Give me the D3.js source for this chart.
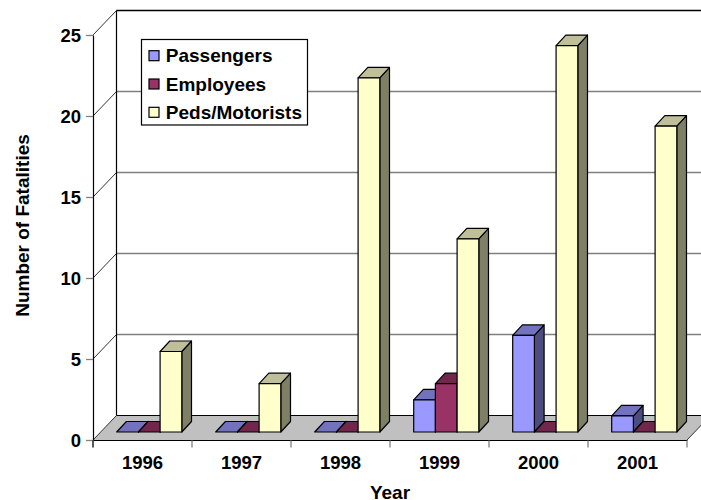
<!DOCTYPE html>
<html><head><meta charset="utf-8">
<script src="https://cdn.jsdelivr.net/npm/d3@7"></script>
<style>html,body{margin:0;padding:0;background:#fff;overflow:hidden}svg{display:block}text{font-family:"Liberation Sans",Arial,sans-serif;font-weight:bold;fill:#000}</style>
</head><body><div id="c"></div>
<script>
const years=["1996","1997","1998","1999","2000","2001"];
const seriesNames=["Passengers","Employees","Peds/Motorists"];
const passengers=[0,0,0,2,6,1];
const employees=[0,0,0,3,0,0];
const peds=[5,3,22,12,24,19];
const yTicks=[0,5,10,15,20,25];
const seriesValues=[passengers,employees,peds];
const front=["#9999FF","#993366","#FFFFCC"];
const top_=["#7272BF","#72264C","#BFBF99"];
const side=["#4C4C7F","#4C1933","#7F7F66"];

const W=701,H=500;
const svg=d3.select("#c").append("svg").attr("width",W).attr("height",H);
const x=d3.scaleBand().domain(years).range([93,687]);
const y=d3.scaleLinear().domain([0,25]).range([440,35]);
const yBar=d3.scaleLinear().domain([0,25]).range([432,29.5]);
const wallDx=23.5,wallDy=24.5;
const barDx=9.7,barDy=10.5;
const groupPad=23.7,barW=21.7;
const sx=d3.scaleBand().domain(seriesNames).range([groupPad,groupPad+barW*3]);
const poly=p=>p.map(d=>d.join(",")).join(" ");

// walls and floor
svg.append("polygon").attr("points",poly([[93,y(0)],[93+wallDx,y(0)-wallDy],[687+wallDx,y(0)-wallDy],[687,y(0)]])).attr("fill","#C0C0C0").attr("stroke","none");
const g=svg.append("g").attr("fill","none");
g.selectAll("line.grid").data(yTicks.filter(d=>d>0&&d<25)).join("line").attr("x1",93+wallDx).attr("x2",W).attr("y1",d=>y(d)-wallDy).attr("y2",d=>y(d)-wallDy).attr("stroke","#808080").attr("stroke-width",1.3);
g.selectAll("line.slant").data(yTicks).join("line").attr("x1",93).attr("x2",93+wallDx).attr("y1",d=>y(d)).attr("y2",d=>y(d)-wallDy).attr("stroke","#333").attr("stroke-width",1);
g.append("line").attr("x1",93+wallDx).attr("x2",W).attr("y1",y(25)-wallDy).attr("y2",y(25)-wallDy).attr("stroke","#000").attr("stroke-width",1.3);
g.append("line").attr("x1",93+wallDx).attr("x2",93+wallDx).attr("y1",y(25)-wallDy).attr("y2",y(0)-wallDy).attr("stroke","#000").attr("stroke-width",1.2);
g.append("line").attr("x1",93+wallDx).attr("x2",W).attr("y1",y(0)-wallDy).attr("y2",y(0)-wallDy).attr("stroke","#000").attr("stroke-width",1.2);
g.append("line").attr("x1",687).attr("x2",687+wallDx).attr("y1",y(0)).attr("y2",y(0)-wallDy).attr("stroke","#333").attr("stroke-width",1);

// axes
const ax=svg.append("g").attr("transform",`translate(93,0)`).call(d3.axisLeft(y).tickValues(yTicks).tickSize(7).tickPadding(5).tickSizeOuter(0));
ax.selectAll("text").style("font-size","18.5px").attr("dy","0.36em");
ax.selectAll(".tick line").attr("stroke","#808080").attr("stroke-width",1.3);
ax.select(".domain").attr("stroke","#000").attr("stroke-width",1.2);
const axb=svg.append("g").attr("transform",`translate(0,${y(0)})`).call(d3.axisBottom(x).tickSize(0).tickPadding(16).tickSizeOuter(0));
axb.selectAll("text").style("font-size","18.5px");
axb.select(".domain").attr("stroke","#000").attr("stroke-width",1.2);
svg.append("g").selectAll("line").data(years.concat(["end"])).join("line")
 .attr("x1",(d,i)=>93+i*x.step()).attr("x2",(d,i)=>93+i*x.step()).attr("y1",y(0)+0.5).attr("y2",y(0)+7.5)
 .attr("stroke",(d,i)=>i==0?"#000":"#808080").attr("stroke-width",1.3);

// bars
years.forEach((yr,i)=>{
  seriesNames.forEach((s,j)=>{
    const v=seriesValues[j][i];
    const x0=x(yr)+sx(s),x1=x0+barW;
    const y0=yBar(0),yt=yBar(v);
    const b=svg.append("g").attr("stroke","#000").attr("stroke-width",1.2).attr("stroke-linejoin","round");
    b.append("polygon").attr("points",poly([[x1,y0],[x1+barDx,y0-barDy],[x1+barDx,yt-barDy],[x1,yt]])).attr("fill",side[j]);
    b.append("polygon").attr("points",poly([[x0,yt],[x0+barDx,yt-barDy],[x1+barDx,yt-barDy],[x1,yt]])).attr("fill",top_[j]);
    b.append("rect").attr("x",x0).attr("y",yt).attr("width",barW).attr("height",y0-yt).attr("fill",front[j]);
  });
});

// legend
svg.append("rect").attr("x",141.5).attr("y",39.5).attr("width",166).attr("height",85.5).attr("fill","#fff").attr("stroke","#000").attr("stroke-width",1.2);
seriesNames.forEach((s,j)=>{
  const cy=55.7+28.3*j;
  svg.append("rect").attr("x",149).attr("y",cy-5).attr("width",10).attr("height",10).attr("fill",front[j]).attr("stroke","#000").attr("stroke-width",1.2);
  svg.append("text").attr("x",165.8).attr("y",cy+6.5).style("font-size","19px").text(s);
});

// titles
svg.append("text").attr("transform","translate(28.5,225.5) rotate(-90)").attr("text-anchor","middle").style("font-size","19px").text("Number of Fatalities");
svg.append("text").attr("x",390).attr("y",499).attr("text-anchor","middle").style("font-size","19px").text("Year");
</script></body></html>
